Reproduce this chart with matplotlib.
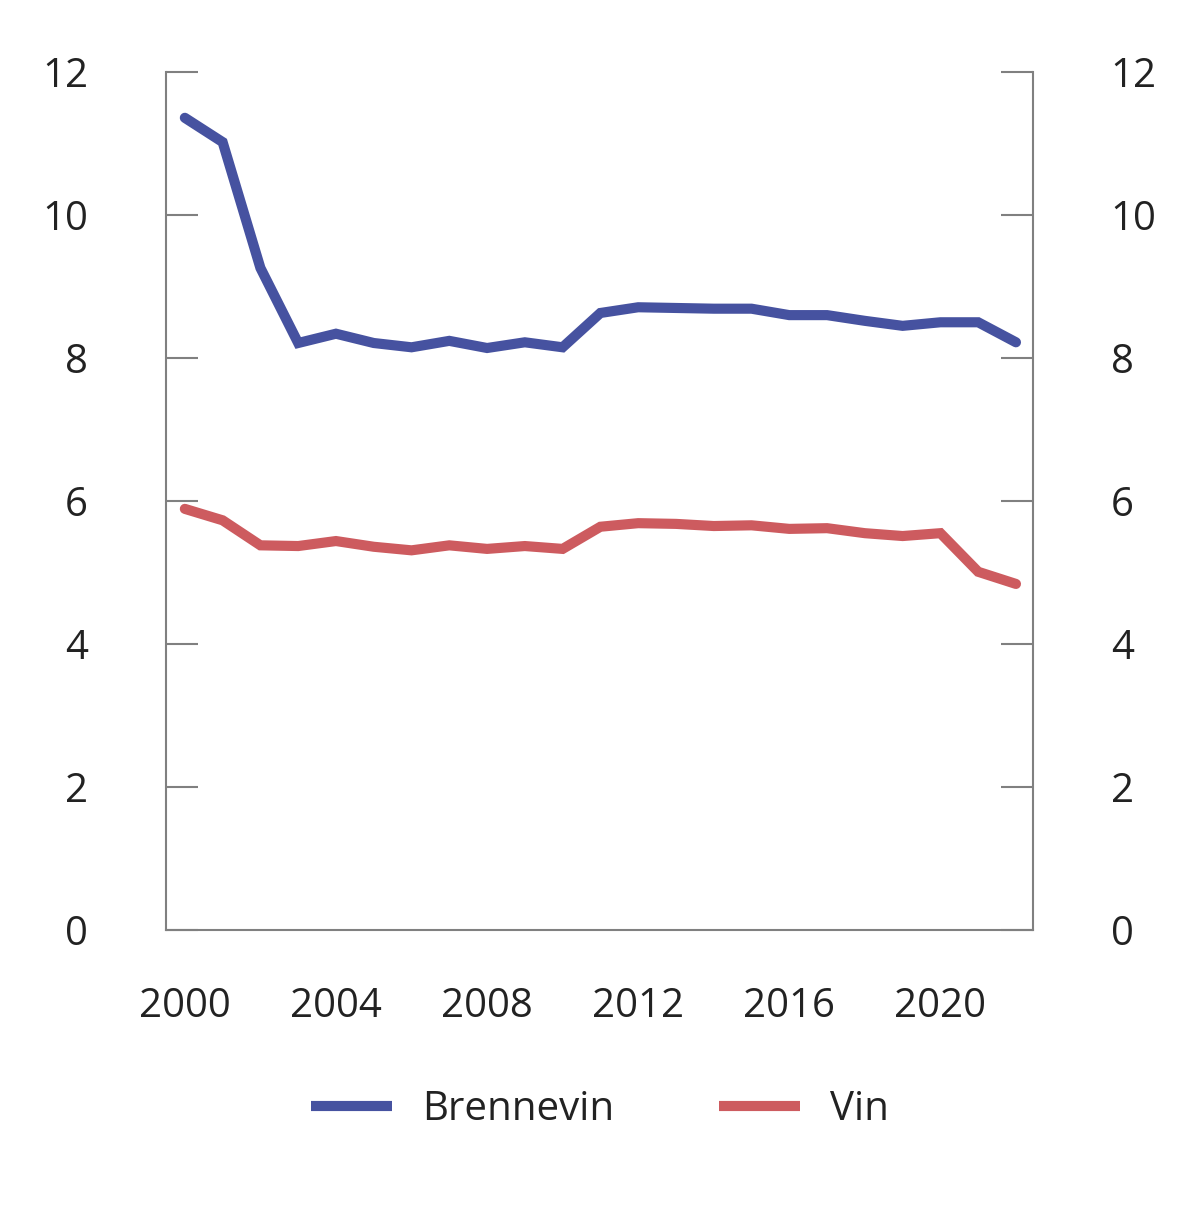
import numpy as np
import matplotlib.pyplot as plt
from matplotlib.lines import Line2D

plt.rcParams['font.family'] = ['Open Sans', 'DejaVu Sans']

years = list(range(2000, 2023))
brennevin = [11.36, 11.02, 9.26, 8.21, 8.34, 8.21, 8.15, 8.24, 8.14, 8.22, 8.15,
             8.63, 8.71, 8.70, 8.69, 8.69, 8.60, 8.60, 8.52, 8.45, 8.50, 8.50, 8.22]
vin = [5.89, 5.73, 5.38, 5.37, 5.44, 5.36, 5.31, 5.38, 5.33, 5.37, 5.33,
       5.64, 5.69, 5.68, 5.65, 5.66, 5.61, 5.62, 5.55, 5.51, 5.55, 5.01, 4.84]
yticks = [0, 2, 4, 6, 8, 10, 12]
xticks = [2000, 2004, 2008, 2012, 2016, 2020]

grey = '#808080'
blue = '#4652a0'
red = '#cd5b5f'
fig = plt.figure(figsize=(12, 12.15), dpi=100)
ax = fig.add_axes([0.1383, 0.2346, 0.7225, 0.7061])

ax.plot(years, brennevin, color=blue, lw=7.3, solid_capstyle='round',
        solid_joinstyle='miter')
ax.plot(years, vin, color=red, lw=7.3, solid_capstyle='round',
        solid_joinstyle='miter')

ax.set_xlim(1999.5, 2022.45)
ax.set_ylim(0, 12)
ax.set_yticks(yticks)
ax.set_xticks(xticks)

ax.spines['top'].set_visible(False)
for s in ['left', 'right', 'bottom']:
    ax.spines[s].set_color(grey)
    ax.spines[s].set_linewidth(1.5)

ax.tick_params(axis='y', direction='in', length=23, width=1.5, color=grey,
               labelsize=29, pad=56, left=True, right=True,
               labelleft=True, labelright=True, labelcolor='#222222')
ax.tick_params(axis='x', length=0, labelsize=29, pad=41, labelcolor='#222222')

# Legend with flat-ended handles
handles = [Line2D([0], [0], color=blue, lw=7.3, solid_capstyle='butt'),
           Line2D([0], [0], color=red, lw=7.3, solid_capstyle='butt')]
fig.legend(handles, ['Brennevin', 'Vin'], loc='lower center',
           bbox_to_anchor=(0.5, 0.04), ncol=2, frameon=False,
           fontsize=29, handlelength=2.0, handletextpad=0.75, columnspacing=2.6,
           labelcolor='#222222')

fig.savefig('out.png', dpi=100)
